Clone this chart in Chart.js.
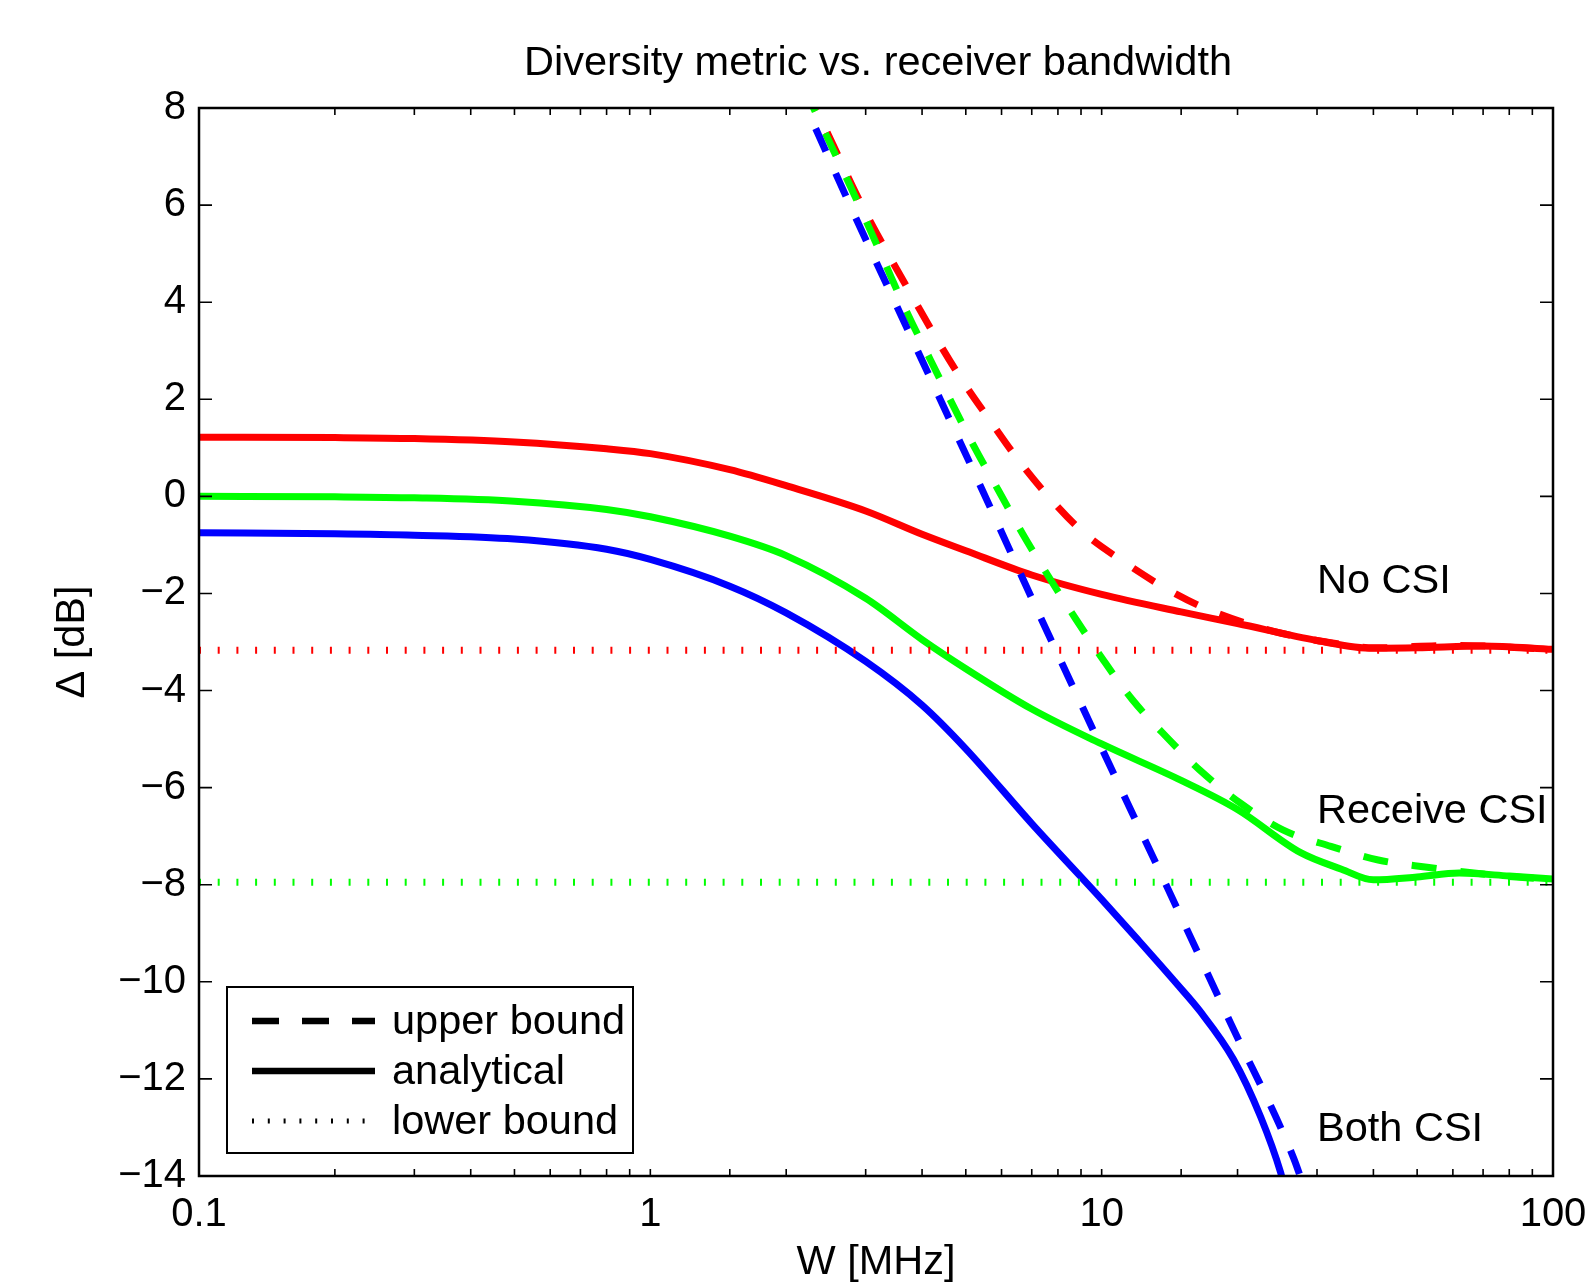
<!DOCTYPE html>
<html>
<head>
<meta charset="utf-8">
<script src="https://cdn.jsdelivr.net/npm/chart.js@4.4.0/dist/chart.umd.min.js"></script>
<style>
  html, body { margin: 0; padding: 0; background: #fff; }
</style>
</head>
<body>
<canvas id="chart" width="1590" height="1285"></canvas>
<script>
// ---------------- data ----------------
const titleText = 'Diversity metric vs. receiver bandwidth';
const xTitle = 'W [MHz]';
const yTitle = '\u0394 [dB]';
const xTickLabels = ['0.1', '1', '10', '100'];
const legendLabels = ['upper bound', 'analytical', 'lower bound'];

// analytical (solid)
const noCsiW  = [0.1, 0.2, 0.3, 0.5, 0.8, 1, 1.5, 2, 3, 4, 5, 7, 10, 15, 20, 30, 40, 50, 70, 100];
const noCsiDb = [1.22, 1.21, 1.19, 1.12, 0.98, 0.88, 0.55, 0.22, -0.3, -0.78, -1.12, -1.62, -2.02, -2.38, -2.62, -2.97, -3.13, -3.12, -3.08, -3.15];

const rxCsiW  = [0.1, 0.2, 0.3, 0.5, 0.8, 1, 1.5, 2, 3, 4, 5, 7, 10, 15, 20, 27.6, 34, 40, 50, 62, 80, 100];
const rxCsiDb = [0.0, -0.01, -0.03, -0.1, -0.27, -0.42, -0.82, -1.22, -2.1, -2.95, -3.55, -4.38, -5.1, -5.85, -6.45, -7.34, -7.68, -7.9, -7.84, -7.76, -7.82, -7.88];

const bothCsiW  = [0.1, 0.2, 0.3, 0.5, 0.8, 1, 1.5, 2, 3, 4, 5, 7, 10, 12, 14.7, 16.5, 19.6, 22.5, 24.9, 25.5];
const bothCsiDb = [-0.75, -0.77, -0.8, -0.88, -1.09, -1.3, -1.85, -2.4, -3.4, -4.3, -5.2, -6.74, -8.3, -9.12, -10.05, -10.6, -11.6, -12.78, -13.92, -14.3];

// upper bounds (dashed)
const noCsiUpW  = [2.2, 2.32, 2.96, 3.74, 4.8, 5.75, 6.5, 7.5, 9.1, 11.2, 13.9, 17.4, 25, 33, 40, 60, 100];
const noCsiUpDb = [8.4, 8, 5.95, 4.24, 2.53, 1.47, 0.78, 0.07, -0.74, -1.35, -1.9, -2.35, -2.82, -3.03, -3.12, -3.07, -3.15];

const rxCsiUpW  = [2.2, 2.3, 2.9, 3.29, 3.7, 4.17, 5.2, 5.9, 6.68, 7.59, 8.74, 10.1, 11.7, 14.0, 16.5, 20.3, 25.2, 32.2, 41, 52.6, 70, 100];
const rxCsiUpDb = [8.4, 8, 6.0, 4.86, 3.8, 2.82, 1.05, 0.13, -0.77, -1.62, -2.51, -3.38, -4.19, -4.98, -5.64, -6.32, -6.87, -7.21, -7.49, -7.64, -7.78, -7.9];

const bothCsiUpW  = [2.1, 2.8, 3.86, 5.31, 7.32, 10.1, 14.0, 19.3, 26.6, 28];
const bothCsiUpDb = [8.5, 5.9, 3.11, 0.34, -2.49, -5.27, -8.07, -10.85, -13.62, -14.2];

// lower bounds (dotted)
const lowerW = [0.1, 100];
const noCsiLow = -3.17;
const rxCsiLow = -7.95;

// curve labels: [text, W, dB]
const curveLabels = [
  ['No CSI', 30, -1.75],
  ['Receive CSI', 30, -6.5],
  ['Both CSI', 30, -13.05]
];

const RED = '#ff0000', GREEN = '#00ff00', BLUE = '#0000ff';
const FONT = '"Liberation Sans", Arial, Helvetica, sans-serif';

function pts(w, db) {
  return w.map((v, i) => ({ x: v, y: db[i] }));
}
function flat(w, v) {
  return w.map(x => ({ x: x, y: v }));
}

function solid(data, color) {
  return { data: data, borderColor: color, borderWidth: 7, pointRadius: 0,
           cubicInterpolationMode: 'monotone', fill: false, clip: 0 };
}
function dashed(data, color) {
  return { data: data, borderColor: color, borderWidth: 7, borderDash: [25, 24],
           borderCapStyle: 'butt', pointRadius: 0, cubicInterpolationMode: 'monotone',
           fill: false, clip: 0 };
}
function dotted(data, color) {
  return { data: data, borderColor: color, borderWidth: 7, borderDash: [2, 16.7],
           borderCapStyle: 'butt', pointRadius: 0, fill: false, clip: 0 };
}

// title, ticks drawn inside the box, box outline, curve labels, legend
const matlabFrame = {
  id: 'matlabFrame',
  afterDraw(chart) {
    const { ctx, chartArea: a, scales: { x, y } } = chart;
    ctx.save();

    ctx.fillStyle = '#000';
    ctx.font = '41.5px ' + FONT;
    ctx.textAlign = 'center';
    ctx.textBaseline = 'middle';
    ctx.fillText(titleText, (a.left + a.right) / 2 + 2, 64);

    ctx.strokeStyle = '#000';
    ctx.lineWidth = 1.6;
    ctx.beginPath();
    x.ticks.forEach(t => {
      const px = x.getPixelForValue(t.value);
      ctx.moveTo(px, a.bottom); ctx.lineTo(px, a.bottom - 7);
      ctx.moveTo(px, a.top); ctx.lineTo(px, a.top + 7);
    });
    y.ticks.forEach(t => {
      const py = y.getPixelForValue(t.value);
      ctx.moveTo(a.left, py); ctx.lineTo(a.left + 13, py);
      ctx.moveTo(a.right, py); ctx.lineTo(a.right - 13, py);
    });
    ctx.stroke();
    ctx.lineWidth = 2.5;
    ctx.strokeRect(a.left, a.top, a.right - a.left, a.bottom - a.top);

    // curve labels
    ctx.textAlign = 'left';
    curveLabels.forEach(([txt, w, db]) => {
      ctx.fillText(txt, x.getPixelForValue(w), y.getPixelForValue(db));
    });

    // legend
    const lx = a.left + 28, ly = a.top + 879, lw = 406, lh = 166;
    ctx.fillStyle = '#fff';
    ctx.fillRect(lx, ly, lw, lh);
    ctx.lineWidth = 2;
    ctx.strokeRect(lx, ly, lw, lh);
    const rows = [34, 84, 134];
    const styles = [
      { w: 6.5, dash: [27, 23] },
      { w: 6.5, dash: [] },
      { w: 5, dash: [2, 13.8] }
    ];
    rows.forEach((r, i) => {
      ctx.beginPath();
      ctx.lineWidth = styles[i].w;
      ctx.lineCap = 'butt';
      ctx.setLineDash(styles[i].dash);
      ctx.strokeStyle = '#000';
      ctx.moveTo(lx + 25, ly + r);
      ctx.lineTo(lx + 148, ly + r);
      ctx.stroke();
      ctx.setLineDash([]);
      ctx.fillStyle = '#000';
      ctx.fillText(legendLabels[i], lx + 165, ly + r + 2);
    });
    ctx.restore();
  }
};

Chart.defaults.font.family = FONT;
Chart.defaults.color = '#000';

const ctx = document.getElementById('chart').getContext('2d');
const myChart = new Chart(ctx, {
  type: 'line',
  data: {
    datasets: [
      dotted(flat(lowerW, noCsiLow), RED),
      dotted(flat(lowerW, rxCsiLow), GREEN),
      dashed(pts(bothCsiUpW, bothCsiUpDb), BLUE),
      dashed(pts(rxCsiUpW, rxCsiUpDb), GREEN),
      dashed(pts(noCsiUpW, noCsiUpDb), RED),
      solid(pts(noCsiW, noCsiDb), RED),
      solid(pts(rxCsiW, rxCsiDb), GREEN),
      solid(pts(bothCsiW, bothCsiDb), BLUE)
    ]
  },
  options: {
    responsive: false,
    animation: false,
    devicePixelRatio: 1,
    layout: { padding: { left: 0, right: 37, top: 108, bottom: 0 } },
    plugins: {
      legend: { display: false },
      tooltip: { enabled: false },
      title: { display: false }
    },
    scales: {
      x: {
        type: 'logarithmic',
        min: 0.1,
        max: 100,
        grid: { drawOnChartArea: false, drawTicks: false },
        border: { display: false },
        ticks: {
          autoSkip: false,
          maxRotation: 0,
          padding: 15,
          font: { size: 40 },
          callback: function (v) {
            const e = Math.log10(v);
            if (Math.abs(e - Math.round(e)) > 1e-6) return '';
            return xTickLabels[Math.round(e) + 1];
          }
        },
        title: { display: true, text: xTitle, font: { size: 41.5, lineHeight: 1.1 }, padding: { top: 0, bottom: 0 } },
        afterFit: s => { s.height = 109; s.paddingLeft = 0; s.paddingRight = 0; }
      },
      y: {
        min: -14,
        max: 8,
        grid: { drawOnChartArea: false, drawTicks: false },
        border: { display: false },
        ticks: {
          stepSize: 2,
          padding: 13,
          font: { size: 40 },
          callback: v => String(v).replace('-', '\u2212')
        },
        title: { display: true, text: yTitle, font: { size: 41.5 }, padding: { top: 48, bottom: 0 } },
        afterFit: s => { s.width = 199; }
      }
    }
  },
  plugins: [matlabFrame]
});
</script>
</body>
</html>
